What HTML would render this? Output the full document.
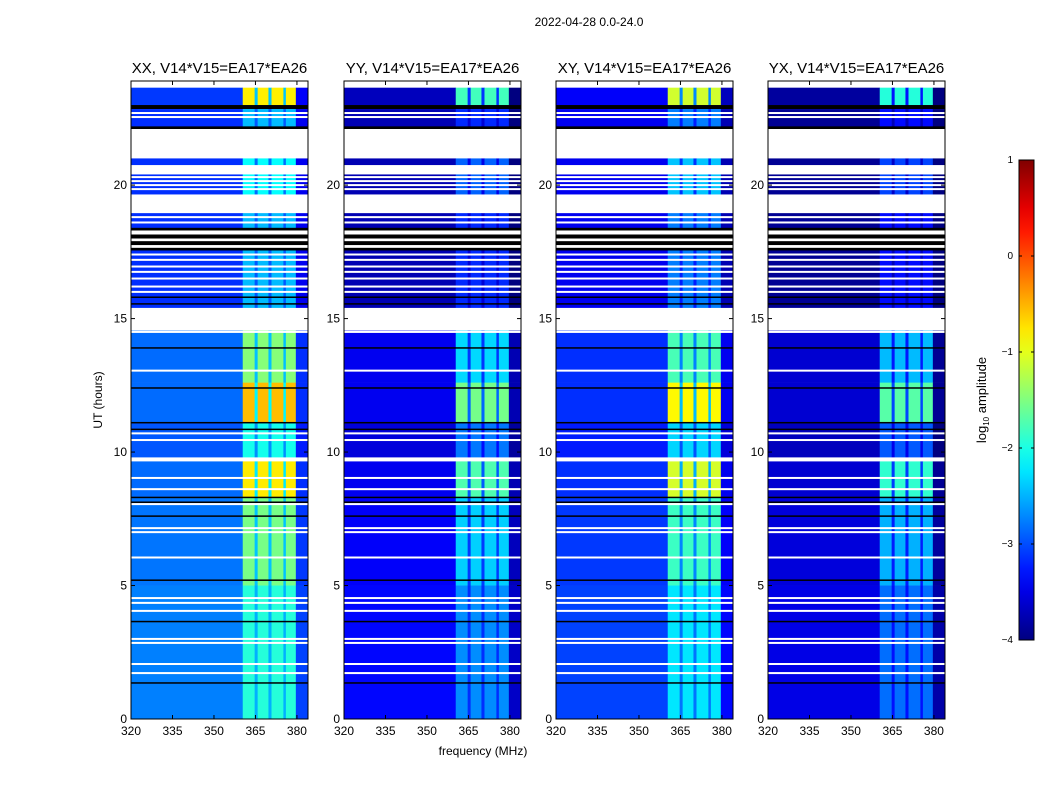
<!DOCTYPE html>
<html><head><meta charset="utf-8"><style>
body{margin:0;background:#fff;}
svg text{font-family:"Liberation Sans",sans-serif;}
</style></head><body>
<svg id="fig" width="1050" height="800" xmlns="http://www.w3.org/2000/svg">
<rect width="1050" height="800" fill="#fff"/>
<text x="589" y="26" font-size="12" text-anchor="middle">2022-04-28 0.0-24.0</text>
<text x="483" y="755" font-size="12" text-anchor="middle">frequency (MHz)</text>
<text transform="translate(102,400) rotate(-90)" font-size="12" text-anchor="middle">UT (hours)</text>
<g id="panels"></g>
<g id="cbar"></g>
</svg>
<script>
// ---- data ----
const panelTitles = ["XX, V14*V15=EA17*EA26","YY, V14*V15=EA17*EA26","XY, V14*V15=EA17*EA26","YX, V14*V15=EA17*EA26"];
const panelBase = [-2.85,-3.45,-3.15,-3.6];
const panelRfiGain = [2.3,1.9,2.3,1.9];
// time segments (hours): start, end, kind (d=data,w=blank,k=black), rfi strength, base offset
const segStart = [23.65,23.0,22.85,22.2,22.1,21.0,20.75,20.4,19.65,18.95,18.4,18.3,18.15,18.0,17.9,17.75,17.65,17.55,15.85,15.4,14.55,12.6,11.1,9.8,9.65,8.3,5.0,0];
const segEnd   = [23.9,23.65,23.0,22.85,22.2,22.1,21.0,20.75,20.4,19.65,18.95,18.4,18.3,18.15,18.0,17.9,17.75,17.65,17.55,15.85,15.4,14.55,12.6,11.1,9.8,9.65,8.3,5.0];
const segKind  = ["w","d","k","d","k","w","d","w","d","w","d","k","w","k","w","k","w","k","d","d","w","d","d","d","w","d","d","d"];
const segRfi   = [0,1.0,0,0.3,0,0,0.45,0,0.45,0,0.3,0,0,0,0,0,0,0,0.3,0.3,0,0.6,1.0,0.4,0,0.9,0.55,0.35];
const segOff   = [0,-0.25,0,-0.3,0,0,-0.3,0,-0.3,0,-0.3,0,0,0,0,0,0,0,-0.3,-0.3,0,0,0,-0.1,0,0,0.05,0.1];
// thin flagged lines
const whiteLines = [22.7,22.55,20.3,20.15,20.0,19.85,18.8,18.6,17.4,17.2,16.95,16.75,16.5,16.2,16.0,14.5,13.05,10.7,10.45,9.03,8.61,8.05,7.15,7.0,6.05,4.53,4.35,4.05,3.0,2.85,2.06,1.72];
const blackLines = [15.8,15.55,13.9,12.4,11.1,10.85,8.3,8.12,7.6,5.2,3.65,1.35];
// frequency bins (MHz) and RFI stripe factor
const freqEdges = [320,360.4,364.7,365.8,369.7,370.8,375.1,376,379.6,384];
const freqRfi = [0,1,0.3,1,0.3,1,0.3,1,0];
const freqOff = [0,0,0,0,0,0,0,0,-0.3];
const xTicks = [320,335,350,365,380];
const yTicks = [0,5,10,15,20];
const cbTicks = [1,0,-1,-2,-3,-4];

// ---- layout ----
const panelX = [131,344,556,768], PW=177, PY=81, PB=719;
const xMin=320, xMax=384, yMin=0, yMax=23.9;
const NS="http://www.w3.org/2000/svg";
function jet(v){v=Math.max(0,Math.min(1,v));
 const r=Math.max(0,Math.min(1,1.5-Math.abs(4*v-3))),g=Math.max(0,Math.min(1,1.5-Math.abs(4*v-2))),b=Math.max(0,Math.min(1,1.5-Math.abs(4*v-1)));
 return `rgb(${Math.round(r*255)},${Math.round(g*255)},${Math.round(b*255)})`;}
function lvlColor(l){return jet((l+4)/5);}
function mk(tag,attrs,parent){const e=document.createElementNS(NS,tag);for(const k in attrs)e.setAttribute(k,attrs[k]);parent.appendChild(e);return e;}
const panels=document.getElementById('panels');
panelX.forEach((px,p)=>{
 const g=mk('g',{},panels);
 
 
 const sx=f=>px+(f-xMin)/(xMax-xMin)*PW;
 const sy=h=>PB-(h-yMin)/(yMax-yMin)*(PB-PY);
 for(let s=0;s<segStart.length;s++){
  const y0=sy(segEnd[s]),y1=sy(segStart[s]);
  if(segKind[s]!=='d'){
   const r=mk('rect',{x:px,y:y0,width:PW,height:y1-y0,fill:segKind[s]==='w'?'#fff':'#000'},g);
   
   
   continue;}
  for(let f=0;f<freqRfi.length;f++){
   const lvl=panelBase[p]+segOff[s]+freqOff[f]+panelRfiGain[p]*segRfi[s]*freqRfi[f];
   const x0=sx(freqEdges[f]),x1=sx(freqEdges[f+1]);
   const r=mk('rect',{x:x0,y:y0,width:x1-x0+0.3,height:y1-y0+0.3,fill:lvlColor(lvl)},g);
   
   
  }
 }
 whiteLines.forEach(h=>{const r=mk('rect',{x:px,y:sy(h)-1,width:PW,height:2,fill:'#fff'},g);
  
  });
 blackLines.forEach(h=>{const r=mk('rect',{x:px,y:sy(h)-0.75,width:PW,height:1.5,fill:'#000'},g);
  
  });
 const fr=mk('rect',{x:px,y:PY,width:PW,height:PB-PY,fill:'none',stroke:'#000','stroke-width':1},g);
 
 
 xTicks.forEach(t=>{const x=sx(t);
  mk('line',{x1:x,x2:x,y1:PB,y2:PB-4,stroke:'#000'},g);
  mk('line',{x1:x,x2:x,y1:PY,y2:PY+4,stroke:'#000'},g);
  const tx=mk('text',{x:x,y:PB+16,'font-size':12,'text-anchor':'middle'},g);tx.textContent=t;
  
  });
 yTicks.forEach(t=>{const y=sy(t);
  mk('line',{x1:px,x2:px+4,y1:y,y2:y,stroke:'#000'},g);
  mk('line',{x1:px+PW,x2:px+PW-4,y1:y,y2:y,stroke:'#000'},g);
  const tx=mk('text',{x:px-4,y:y+4,'font-size':12,'text-anchor':'end'},g);tx.textContent=t;
  
  });
 const tt=mk('text',{x:px+PW/2,y:73,'font-size':15,'text-anchor':'middle'},g);tt.textContent=panelTitles[p];
 
 
});
// colorbar
const cb=document.getElementById('cbar');


const CX=1019,CW=15,CT=160,CB=640;
const defs=mk('defs',{},cb);
const lg=mk('linearGradient',{id:'jetg',x1:0,y1:1,x2:0,y2:0},defs);
for(let i=0;i<=20;i++)mk('stop',{offset:i/20,'stop-color':jet(i/20)},lg);
mk('rect',{x:CX,y:CT,width:CW,height:CB-CT,fill:'url(#jetg)',stroke:'#000'},cb);
cbTicks.forEach(t=>{const y=CT+(1-t)/5*(CB-CT);
 mk('line',{x1:CX,x2:CX+3,y1:y,y2:y,stroke:'#000'},cb);
 mk('line',{x1:CX+CW,x2:CX+CW-3,y1:y,y2:y,stroke:'#000'},cb);
 const tx=mk('text',{x:CX-6,y:y+3,'font-size':10,'text-anchor':'end'},cb);tx.textContent=(t<0?'\u2212'+(-t):t);
 
 });
const cl=mk('text',{transform:'translate(986,400) rotate(-90)','font-size':13,'text-anchor':'middle'},cb);
cl.innerHTML='log<tspan font-size="8" dy="3">10</tspan><tspan dy="-3"> amplitude</tspan>';


</script>
</body></html>
